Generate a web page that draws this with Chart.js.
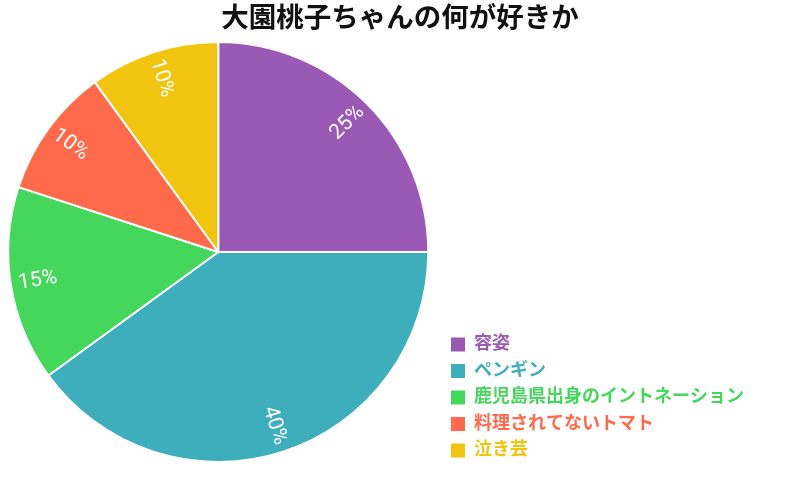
<!DOCTYPE html>
<html><head><meta charset="utf-8">
<script src="https://cdn.jsdelivr.net/npm/chart.js@4"></script>
<style>html,body{margin:0;padding:0;background:#fff}#wrap{width:800px;height:491px}</style>
</head><body><div id="wrap"><canvas id="c"></canvas></div>
<script>
const categories = ['容姿','ペンギン','鹿児島県出身のイントネーション','料理されてないトマト','泣き芸'];
const values = [25,40,15,10,10];
const colors = ['#9b59b6','#3eaebd','#45d65c','#ff6a4b','#f1c40f'];
const FONT = "Roboto, 'Noto Sans CJK JP', sans-serif";

const labelPlugin = {
  id:'sliceLabels',
  afterDatasetsDraw(chart){
    const ctx = chart.ctx;
    const meta = chart.getDatasetMeta(0);
    const total = values.reduce((a,b)=>a+b,0);
    meta.data.forEach((arc,i)=>{
      const p = arc.getProps(['x','y','startAngle','endAngle','outerRadius'],true);
      const mid = (p.startAngle+p.endAngle)/2;
      const r = p.outerRadius*0.87;
      const x = p.x + Math.cos(mid)*r, y = p.y + Math.sin(mid)*r;
      let rot = mid;
      while (rot > Math.PI) rot -= 2*Math.PI;
      while (rot < -Math.PI) rot += 2*Math.PI;
      if (rot > Math.PI/2) rot -= Math.PI;
      if (rot < -Math.PI/2) rot += Math.PI;
      ctx.save();
      ctx.translate(x,y); ctx.rotate(rot);
      ctx.font = "21px " + FONT;
      ctx.fillStyle = '#fff';
      ctx.textAlign='center'; ctx.textBaseline='middle';
      ctx.fillText(Math.round(values[i]/total*100)+'%',0,0);
      ctx.restore();
    });
  }
};

const layoutPlugin = {
  id:'layoutTweak',
  beforeUpdate(chart){
    const lg = chart.legend;
    if (lg && !lg._wrapped){
      const f = lg.fit;
      lg.fit = function(){ f.call(this); this.width += 52; };
      lg._wrapped = true;
    }
  },
  afterLayout(chart){
    const t = chart.titleBlock;
    if (t){ t.left = 0; t.right = chart.width; t.width = chart.width; }
    const lg = chart.legend;
    if (lg){ lg.top += 5; lg.bottom += 5; lg.left += 6; lg.right += 6; }
  }
};

new Chart(document.getElementById('c'),{
  type:'pie',
  data:{labels:categories,datasets:[{data:values,backgroundColor:colors,borderColor:'#fff',borderWidth:2}]},
  options:{
    responsive:true,maintainAspectRatio:false,animation:false,
    layout:{padding:{top:0,bottom:28,left:-6,right:0}},
    plugins:{
      title:{display:true,text:'大園桃子ちゃんの何が好きか',font:{family:FONT,size:27.5,weight:'bold'},color:'#111',padding:{top:4,bottom:4}},
      tooltip:{enabled:false},
      legend:{position:'right',align:'end',
        labels:{boxWidth:14,boxHeight:14,padding:8.5,font:{family:FONT,size:18,weight:'bold'},
          generateLabels(chart){
            return categories.map((c,i)=>({text:c,fillStyle:colors[i],strokeStyle:colors[i],lineWidth:0,fontColor:colors[i],index:i,hidden:false}));
          }}}
    }
  },
  plugins:[layoutPlugin,labelPlugin]
});
</script></body></html>
